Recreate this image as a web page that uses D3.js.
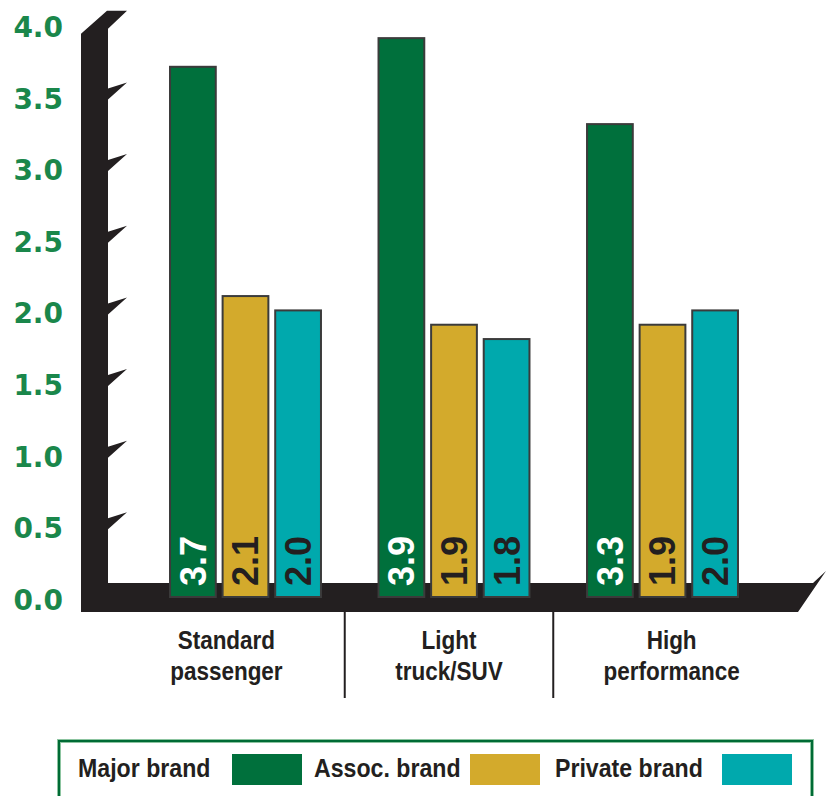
<!DOCTYPE html>
<html><head><meta charset="utf-8">
<script src="https://cdn.jsdelivr.net/npm/d3@7"></script>
<style>html,body{margin:0;padding:0;background:#fff;} svg{display:block;}</style>
</head><body>
<svg id="chart" width="835" height="796"></svg>
<script>
const categories = ["Standard passenger", "Light truck/SUV", "High performance"];
const categoryLines = [["Standard", "passenger"], ["Light", "truck/SUV"], ["High", "performance"]];
const seriesNames = ["Major brand", "Assoc. brand", "Private brand"];
const majorBrand = [3.7, 3.9, 3.3];
const assocBrand = [2.1, 1.9, 1.9];
const privateBrand = [2.0, 1.8, 2.0];
const yTickValues = [0, 0.5, 1.0, 1.5, 2.0, 2.5, 3.0, 3.5, 4.0];
const seriesColors = ["#00703c", "#d3aa2c", "#00a9ad"];
const labelColors = ["#ffffff", "#231f20", "#231f20"];

const seriesValues = [majorBrand, assocBrand, privateBrand];
const data = categories.map((c, i) => ({
  cat: c,
  values: seriesNames.map((s, j) => ({ series: s, value: seriesValues[j][i], j }))
}));

const svg = d3.select("#chart");
const black = "#231f20";
const sans = "'Liberation Sans', Arial, sans-serif";

const y = d3.scaleLinear().domain([0, 4]).range([597, 23.8]);
const x0 = d3.scaleBand().domain(categories).range([110, 798]).paddingInner(0.276).paddingOuter(0.2878);
const x1 = d3.scaleBand().domain(seriesNames).range([0, x0.bandwidth()]).paddingInner(0.13);

// wall + floor (3D-ish black frame)
const wallL = 81, wallR = 108, tickOut = 127;
let p = d3.path();
p.moveTo(wallL, y(0) + 15);
p.lineTo(wallL, y(4) + 10);
p.lineTo(107, y(4) - 13);
p.lineTo(tickOut, y(4) - 13);
p.lineTo(wallR, y(4) + 5);
yTickValues.filter(v => v > 0 && v < 4).sort((a, b) => b - a).forEach(v => {
  p.lineTo(wallR, y(v) - 7);
  p.lineTo(tickOut, y(v) - 13);
  p.lineTo(wallR, y(v) + 4);
});
p.lineTo(wallR, y(0) - 14);
p.lineTo(813, y(0) - 14);
p.lineTo(826, y(0) - 26);
p.lineTo(798, y(0) + 15);
p.closePath();
svg.append("path").attr("d", p.toString()).attr("fill", black);

// y labels
svg.append("g").selectAll("text").data(yTickValues).join("text")
  .attr("x", 63).attr("y", d => y(d) + 3).attr("dy", "0.36em")
  .attr("text-anchor", "end")
  .attr("font-family", "'DejaVu Sans', sans-serif").attr("font-weight", "bold")
  .attr("font-size", 28).attr("fill", "#1a874b")
  .text(d => d.toFixed(1));

// bars
const groups = svg.append("g").selectAll("g").data(data).join("g")
  .attr("transform", d => `translate(${x0(d.cat)},0)`);
groups.selectAll("rect").data(d => d.values).join("rect")
  .attr("x", d => x1(d.series)).attr("width", x1.bandwidth())
  .attr("y", d => y(d.value)).attr("height", d => y(0) - y(d.value))
  .attr("fill", d => seriesColors[d.j])
  .attr("stroke", "#3b3b3b").attr("stroke-width", 2);
groups.selectAll("text").data(d => d.values).join("text")
  .attr("transform", d => `translate(${x1(d.series) + x1.bandwidth() / 2},${y(0) - 11}) rotate(-90)`)
  .attr("dy", "0.36em")
  .attr("font-family", sans).attr("font-weight", "bold")
  .attr("font-size", 36).attr("fill", d => labelColors[d.j])
  .text(d => d.value.toFixed(1));

// dividers & category labels
const gap = x0.step() - x0.bandwidth();
const dividers = categories.slice(1).map(c => x0(c) - gap / 2 - 5);
svg.append("g").selectAll("line").data(dividers).join("line")
  .attr("x1", d => d).attr("x2", d => d).attr("y1", y(0) + 15).attr("y2", 698)
  .attr("stroke", black).attr("stroke-width", 2);
const bounds = [wallR, ...dividers, 790];
const catItems = [];
categoryLines.forEach((lines, i) => lines.forEach((t, k) =>
  catItems.push({ t, k, cx: (bounds[i] + bounds[i + 1]) / 2 })));
svg.append("g").selectAll("text").data(catItems).join("text")
  .attr("transform", d => `translate(${d.cx},${649 + d.k * 31}) scale(0.9,1)`)
  .attr("text-anchor", "middle")
  .attr("font-family", sans).attr("font-weight", "bold")
  .attr("font-size", 25).attr("fill", black)
  .text(d => d.t);

// legend
svg.append("rect").attr("x", 59).attr("y", 741).attr("width", 753).attr("height", 70)
  .attr("fill", "#fff").attr("stroke", "#8cc4a0").attr("stroke-width", 4);
svg.append("rect").attr("x", 59).attr("y", 741).attr("width", 753).attr("height", 70)
  .attr("fill", "none").attr("stroke", "#006b35").attr("stroke-width", 2);
const legendTextX = [78, 314, 555];
const legendSwX = [232, 470, 722];
const lg = svg.append("g").selectAll("g").data(seriesNames).join("g");
lg.append("text").attr("transform", (d, i) => `translate(${legendTextX[i]},777) scale(0.89,1)`)
  .attr("font-family", sans).attr("font-weight", "bold")
  .attr("font-size", 26).attr("fill", black).text(d => d);
lg.append("rect").attr("x", (d, i) => legendSwX[i]).attr("y", 754).attr("width", 70).attr("height", 31)
  .attr("fill", (d, i) => seriesColors[i]);
</script>
</body></html>
